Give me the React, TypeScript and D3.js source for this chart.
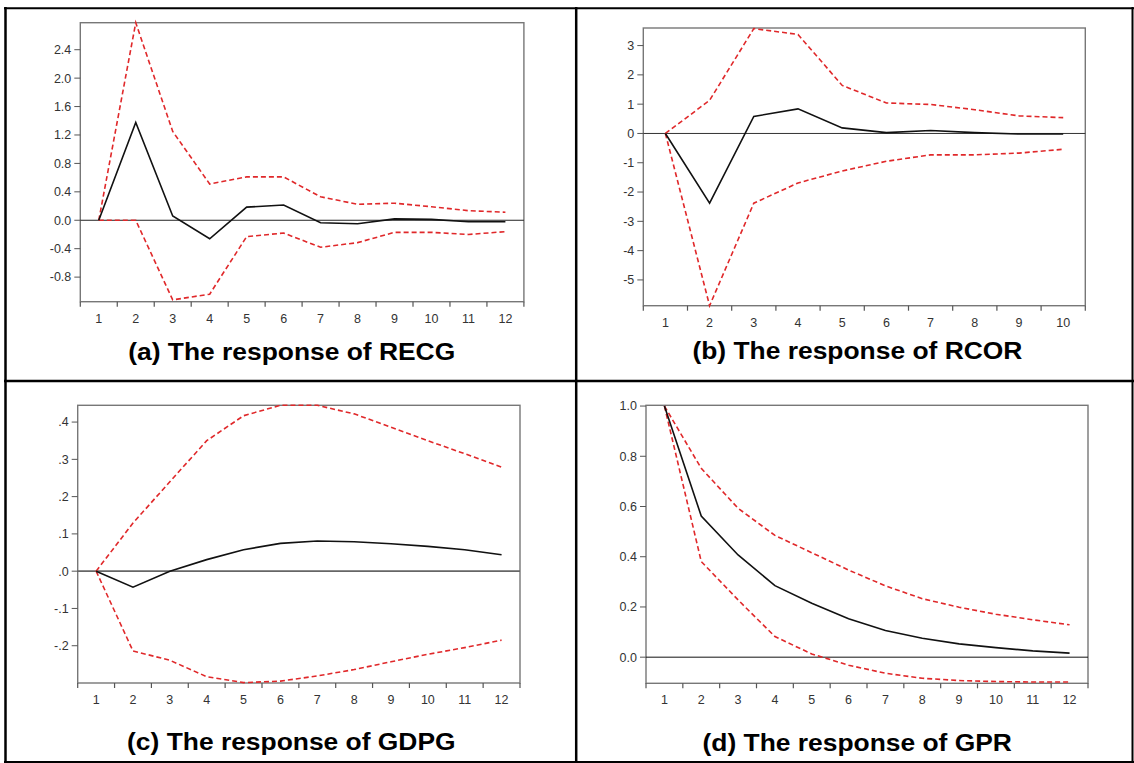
import React from "react";
import * as d3 from "d3";

// ---------- data ----------
const periods12 = ["1", "2", "3", "4", "5", "6", "7", "8", "9", "10", "11", "12"];
const periods10 = ["1", "2", "3", "4", "5", "6", "7", "8", "9", "10"];

const recgResponse = [0, 1.375, 0.06, -0.26, 0.185, 0.215, -0.034, -0.05, 0.02, 0.012, -0.02, -0.02];
const recgUpper = [0, 2.78, 1.25, 0.51, 0.61, 0.61, 0.33, 0.225, 0.24, 0.19, 0.135, 0.113];
const recgLower = [0, 0, -1.12, -1.04, -0.23, -0.18, -0.38, -0.315, -0.17, -0.17, -0.2, -0.16];
const recgTicks = [-0.8, -0.4, 0, 0.4, 0.8, 1.2, 1.6, 2.0, 2.4];

const rcorResponse = [0, -2.38, 0.58, 0.84, 0.19, 0.03, 0.1, 0.03, -0.02, -0.02];
const rcorUpper = [0, 1.13, 3.58, 3.38, 1.64, 1.04, 0.99, 0.81, 0.6, 0.54];
const rcorLower = [0, -5.88, -2.38, -1.69, -1.28, -0.95, -0.73, -0.73, -0.67, -0.54];
const rcorTicks = [-5, -4, -3, -2, -1, 0, 1, 2, 3];

const gdpgResponse = [0, -0.043, 0.0, 0.031, 0.0575, 0.0746, 0.081, 0.079, 0.0737, 0.0665, 0.0575, 0.044];
const gdpgUpper = [0, 0.129, 0.24, 0.35, 0.417, 0.445, 0.445, 0.422, 0.386, 0.35, 0.315, 0.279];
const gdpgLower = [0, -0.214, -0.239, -0.283, -0.299, -0.295, -0.281, -0.264, -0.243, -0.223, -0.205, -0.185];
const gdpgTicks = [-0.2, -0.1, 0, 0.1, 0.2, 0.3, 0.4];

const gprResponse = [1.0, 0.562, 0.407, 0.285, 0.215, 0.153, 0.106, 0.0756, 0.053, 0.038, 0.025, 0.016];
const gprUpper = [1.0, 0.752, 0.593, 0.485, 0.416, 0.347, 0.284, 0.233, 0.199, 0.171, 0.149, 0.129];
const gprLower = [1.0, 0.381, 0.228, 0.082, 0.013, -0.032, -0.064, -0.084, -0.093, -0.097, -0.099, -0.099];
const gprTicks = [0, 0.2, 0.4, 0.6, 0.8, 1.0];

const titles = [
  "(a) The response of RECG",
  "(b) The response of RCOR",
  "(c) The response of GDPG",
  "(d) The response of GPR",
];

// ---------- formats (ASCII hyphen minus) ----------
const locale = d3.formatLocale({
  decimal: ".",
  thousands: ",",
  grouping: [3],
  currency: ["", ""],
  minus: "-",
});
const fmt1 = locale.format(".1f");
const fmtInt = locale.format("d");
const fmtNoLead = (v: number) => fmt1(v).replace(/^(-?)0\./, "$1.");

type PanelProps = {
  cats: string[];
  response: number[];
  upper: number[];
  lower: number[];
  domain: [number, number];
  ticks: number[];
  format: (v: number) => string;
  left: number;
  right: number;
  top: number;
  bottom: number;
  zeroColor: string;
  zeroWidth: number;
};

const FONT = "Arial, 'Liberation Sans', Helvetica, sans-serif";

function Panel(p: PanelProps) {
  const x = d3.scaleBand<string>().domain(p.cats).range([p.left, p.right]).padding(0);
  const y = d3.scaleLinear().domain(p.domain).range([p.bottom, p.top]);
  const cx = (i: number) => (x(p.cats[i]) as number) + x.bandwidth() / 2;
  const line = d3
    .line<number>()
    .x((_, i) => cx(i))
    .y((d) => y(d));
  const boundaries = [...p.cats.map((c) => x(c) as number), p.right];
  const red = "#e0282a";
  return (
    <g>
      <rect
        x={p.left}
        y={p.top}
        width={p.right - p.left}
        height={p.bottom - p.top}
        fill="none"
        stroke="#777"
        strokeWidth={1.4}
      />
      <line x1={p.left} x2={p.right} y1={y(0)} y2={y(0)} stroke={p.zeroColor} strokeWidth={p.zeroWidth} />
      {p.ticks.map((t) => (
        <g key={"y" + t}>
          <line x1={p.left - 6} x2={p.left} y1={y(t)} y2={y(t)} stroke="#555" strokeWidth={1} />
          <text
            x={p.left - 9}
            y={y(t)}
            dy="0.35em"
            textAnchor="end"
            fontSize={12.5}
            fontFamily={FONT}
            fill="#333"
          >
            {p.format(t)}
          </text>
        </g>
      ))}
      {boundaries.map((b, i) => (
        <line key={"xt" + i} x1={b} x2={b} y1={p.bottom} y2={p.bottom + 5} stroke="#555" strokeWidth={1.2} />
      ))}
      {p.cats.map((c, i) => (
        <text
          key={"xl" + c}
          x={cx(i)}
          y={p.bottom + 21}
          textAnchor="middle"
          fontSize={12.5}
          fontFamily={FONT}
          fill="#333"
        >
          {c}
        </text>
      ))}
      <path d={line(p.upper) || ""} fill="none" stroke={red} strokeWidth={1.6} strokeDasharray="5,3" />
      <path d={line(p.lower) || ""} fill="none" stroke={red} strokeWidth={1.6} strokeDasharray="5,3" />
      <path d={line(p.response) || ""} fill="none" stroke="#111" strokeWidth={1.6} />
    </g>
  );
}

function Title({ text, cx, y }: { text: string; cx: number; y: number }) {
  return (
    <text
      transform={`translate(${cx},${y}) scale(1.1,1)`}
      textAnchor="middle"
      fontSize={24}
      fontWeight="bold"
      fontFamily={FONT}
      fill="#000"
    >
      {text}
    </text>
  );
}

export default function App() {
  return (
    <svg
      width={1134}
      height={763}
      style={{ position: "absolute", left: 0, top: 0, background: "#fff" }}
    >
      <rect x={0} y={0} width={1134} height={763} fill="#fff" />
      <Panel
        cats={periods12}
        response={recgResponse}
        upper={recgUpper}
        lower={recgLower}
        domain={[-1.146, 2.78]}
        ticks={recgTicks}
        format={fmt1}
        left={80.3}
        right={523.9}
        top={22.7}
        bottom={301.7}
        zeroColor="#222"
        zeroWidth={1}
      />
      <Panel
        cats={periods10}
        response={rcorResponse}
        upper={rcorUpper}
        lower={rcorLower}
        domain={[-5.88, 3.6]}
        ticks={rcorTicks}
        format={fmtInt}
        left={643.3}
        right={1085.3}
        top={28}
        bottom={305.7}
        zeroColor="#333"
        zeroWidth={1}
      />
      <Panel
        cats={periods12}
        response={gdpgResponse}
        upper={gdpgUpper}
        lower={gdpgLower}
        domain={[-0.3, 0.445]}
        ticks={gdpgTicks}
        format={fmtNoLead}
        left={77.7}
        right={520}
        top={405.3}
        bottom={683}
        zeroColor="#666"
        zeroWidth={1.6}
      />
      <Panel
        cats={periods12}
        response={gprResponse}
        upper={gprUpper}
        lower={gprLower}
        domain={[-0.104, 1.003]}
        ticks={gprTicks}
        format={fmt1}
        left={646}
        right={1088}
        top={405.3}
        bottom={683.3}
        zeroColor="#111"
        zeroWidth={1}
      />
      <Title text={titles[0]} cx={291.7} y={360} />
      <Title text={titles[1]} cx={857.4} y={358.5} />
      <Title text={titles[2]} cx={291.3} y={750} />
      <Title text={titles[3]} cx={857.2} y={750.5} />
      <line x1={5.5} x2={5.5} y1={7} y2={763} stroke="#000" strokeWidth={2.5} />
      <line x1={4} x2={1134} y1={8.3} y2={8.3} stroke="#000" strokeWidth={2} />
      <line x1={1132.5} x2={1132.5} y1={7} y2={763} stroke="#000" strokeWidth={2} />
      <line x1={4} x2={1134} y1={762} y2={762} stroke="#000" strokeWidth={2} />
      <line x1={576.2} x2={576.2} y1={7} y2={763} stroke="#000" strokeWidth={2.5} />
      <line x1={4} x2={1134} y1={381} y2={381} stroke="#000" strokeWidth={2.5} />
    </svg>
  );
}
